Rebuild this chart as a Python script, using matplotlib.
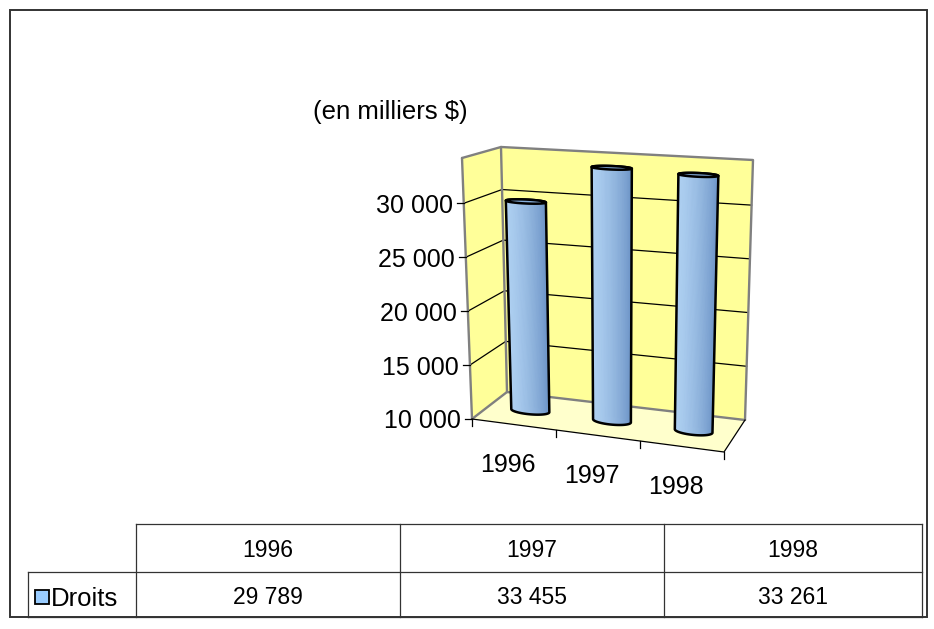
import numpy as np
import matplotlib
matplotlib.use("Agg")
import matplotlib.pyplot as plt
from matplotlib.patches import Polygon, Rectangle

# ---- data -------------------------------------------------------------
years = ["1996", "1997", "1998"]
droits = [29789, 33455, 33261]
value_ticks = [10000, 15000, 20000, 25000, 30000]
series_name = "Droits"
unit_label = "(en milliers $)"

V_MIN, V_MAX = 10000, 34200

plt.rcParams["font.family"] = ["Liberation Sans", "DejaVu Sans"]
FS = 18


def fmt(v):
    return f"{v:,}".replace(",", " ")


# ---- perspective box (figure pixels) ------------------------------------
# key: (u, w, h) with u across categories, w front->back, h floor->top
BOX = {
    (0, 0, 0): (472, 419), (1, 0, 0): (724, 452),
    (0, 1, 0): (507, 392), (1, 1, 0): (745, 420),
    (0, 0, 1): (462, 158), (1, 0, 1): (731, 174),
    (0, 1, 1): (501, 147), (1, 1, 1): (753, 160),
}


def proj(u, w, h):
    u = np.asarray(u, float)
    w = np.asarray(w, float)
    h = np.asarray(h, float)
    x = np.zeros(np.broadcast(u, w, h).shape)
    y = np.zeros_like(x)
    for (iu, iw, ih), (px, py) in BOX.items():
        wt = (u if iu else 1 - u) * (w if iw else 1 - w) * (h if ih else 1 - h)
        x = x + wt * px
        y = y + wt * py
    return x, y


def hfrac(v):
    return (v - V_MIN) / (V_MAX - V_MIN)


def pts(*uvh):
    return [tuple(float(c) for c in proj(*p)) for p in uvh]


fig = plt.figure(figsize=(9.34, 6.29), dpi=100)
ax = fig.add_axes([0, 0, 1, 1])
ax.set_xlim(0, 934)
ax.set_ylim(629, 0)
ax.axis("off")

# outer frame
ax.add_patch(Rectangle((9.5, 9.5), 917.5, 607.5, fill=False,
                       edgecolor="#333333", lw=1.4, zorder=1))

WALL = "#ffff99"
FLOOR = "#ffffcc"
EDGE = "#808080"

# walls and floor
left_wall = pts((0, 0, 0), (0, 1, 0), (0, 1, 1), (0, 0, 1))
back_wall = pts((0, 1, 0), (1, 1, 0), (1, 1, 1), (0, 1, 1))
floor = pts((0, 0, 0), (1, 0, 0), (1, 1, 0), (0, 1, 0))
for poly, col in [(left_wall, WALL), (back_wall, WALL), (floor, FLOOR)]:
    ax.add_patch(Polygon(poly, closed=True, facecolor=col, edgecolor="none", zorder=2))

# gridlines on the walls
for v in value_ticks[1:]:
    h = hfrac(v)
    gx, gy = proj([0, 0, 1], [0, 1, 1], [h, h, h])
    ax.plot(gx, gy, color="black", lw=0.9, zorder=3)

# wall edges
for seg in [((0, 0, 1), (0, 1, 1), (1, 1, 1), (1, 1, 0)),
            ((0, 1, 1), (0, 1, 0), (1, 1, 0)),
            ((0, 0, 0), (0, 1, 0)),
            ((0, 0, 0), (0, 0, 1))]:
    p = np.array(pts(*seg))
    ax.plot(p[:, 0], p[:, 1], color=EDGE, lw=1.7, solid_capstyle="round",
            solid_joinstyle="round", zorder=4)

# category axis (front floor edge) and right floor edge
p = np.array(pts((0, 0, 0), (1, 0, 0), (1, 1, 0)))
ax.plot(p[:, 0], p[:, 1], color="black", lw=0.9, zorder=4)

# category ticks
for k in range(len(years) + 1):
    tx, ty = proj(k / len(years), 0, 0)
    ax.plot([tx, tx], [ty, ty + 7], color="black", lw=0.9, zorder=4)

# value ticks and labels
for v in value_ticks:
    tx, ty = proj(0, 0, hfrac(v))
    ax.plot([tx - 7, tx], [ty, ty], color="black", lw=0.9, zorder=4)
    ax.text(tx - 11, ty, fmt(v), ha="right", va="center_baseline",
            fontsize=FS, zorder=5)

# category labels
for k, lab in enumerate(years):
    tx, ty = proj((k + 0.5) / len(years), 0, 0)
    ax.text(tx - 6, ty + 38, lab, ha="center", va="center_baseline",
            fontsize=FS, zorder=5)

ax.text(390, 110, unit_label, ha="center", va="center_baseline", fontsize=FS + 0.5)


# ---- cylinders ----------------------------------------------------------
def convex_hull(points):
    pts_sorted = sorted(set(points))
    if len(pts_sorted) <= 2:
        return pts_sorted

    def cross(o, a, b):
        return (a[0] - o[0]) * (b[1] - o[1]) - (a[1] - o[1]) * (b[0] - o[0])

    lower, upper = [], []
    for q in pts_sorted:
        while len(lower) >= 2 and cross(lower[-2], lower[-1], q) <= 0:
            lower.pop()
        lower.append(q)
    for q in reversed(pts_sorted):
        while len(upper) >= 2 and cross(upper[-2], upper[-1], q) <= 0:
            upper.pop()
        upper.append(q)
    return lower[:-1] + upper[:-1]


LIGHT = np.array([172, 206, 240]) / 255
DARK = np.array([98, 138, 192]) / 255
light_dir = np.array([-0.8, -0.6])
light_dir = light_dir / np.linalg.norm(light_dir)

RU, RW, WC = 0.076, 0.12, 0.5
t = np.linspace(0, 2 * np.pi, 145)

for k, v in enumerate(droits):
    uc = (k + 0.5) / len(years)
    h1 = hfrac(v)
    uu = uc + RU * np.cos(t)
    ww = WC + RW * np.sin(t)
    bx, by = proj(uu, ww, 0.0)
    tx_, ty_ = proj(uu, ww, h1)

    hull = convex_hull([(round(a, 3), round(b, 3)) for a, b in zip(
        np.r_[bx, tx_], np.r_[by, ty_])])
    ax.add_patch(Polygon(hull, closed=True, facecolor="#8db4e2",
                         edgecolor="none", zorder=6))

    quads = []
    for j in range(len(t) - 1):
        tm = 0.5 * (t[j] + t[j + 1])
        n = np.array([np.cos(tm), np.sin(tm)])
        s = 0.5 + 0.5 * float(n @ light_dir)
        col = DARK + (LIGHT - DARK) * s
        depth = np.sin(tm)
        quad = [(bx[j], by[j]), (bx[j + 1], by[j + 1]),
                (tx_[j + 1], ty_[j + 1]), (tx_[j], ty_[j])]
        quads.append((depth, quad, col))
    quads.sort(key=lambda q: -q[0])
    for depth, quad, col in quads:
        ax.add_patch(Polygon(quad, closed=True, facecolor=col, edgecolor=col,
                             lw=0.4, zorder=7))

    ax.add_patch(Polygon(hull, closed=True, fill=False, edgecolor="black",
                         lw=1.8, joinstyle="round", zorder=8))
    ax.add_patch(Polygon(np.c_[tx_, ty_], closed=True, facecolor="#86aedb",
                         edgecolor="black", lw=1.8, zorder=9))

# ---- data table ---------------------------------------------------------
col_edges = [136, 400, 664, 922]
row_edges = [524, 572, 617]
legend_left = 28
LC = "#333333"
TW = 0.9

ax.plot([col_edges[0], col_edges[-1]], [row_edges[0]] * 2, color=LC, lw=TW)
ax.plot([legend_left, col_edges[-1]], [row_edges[1]] * 2, color=LC, lw=TW)
ax.plot([legend_left, col_edges[-1]], [row_edges[2]] * 2, color=LC, lw=TW)
for x in col_edges:
    ax.plot([x, x], [row_edges[0], row_edges[2]], color=LC, lw=TW)
ax.plot([legend_left] * 2, [row_edges[1], row_edges[2]], color=LC, lw=TW)

head_y = 0.5 * (row_edges[0] + row_edges[1])
body_y = 0.5 * (row_edges[1] + row_edges[2])
for k, (lab, v) in enumerate(zip(years, droits)):
    cx = 0.5 * (col_edges[k] + col_edges[k + 1])
    ax.text(cx, head_y, lab, ha="center", va="center_baseline", fontsize=16.5)
    ax.text(cx, body_y + 1, fmt(v), ha="center", va="center_baseline", fontsize=16.5)

ax.add_patch(Rectangle((34.5, 590), 14, 14, facecolor="#99ccff",
                       edgecolor="black", lw=1.3, zorder=5))
ax.text(51, body_y + 2, series_name, ha="left", va="center_baseline", fontsize=18.5)

fig.savefig("out.png", dpi=100)
